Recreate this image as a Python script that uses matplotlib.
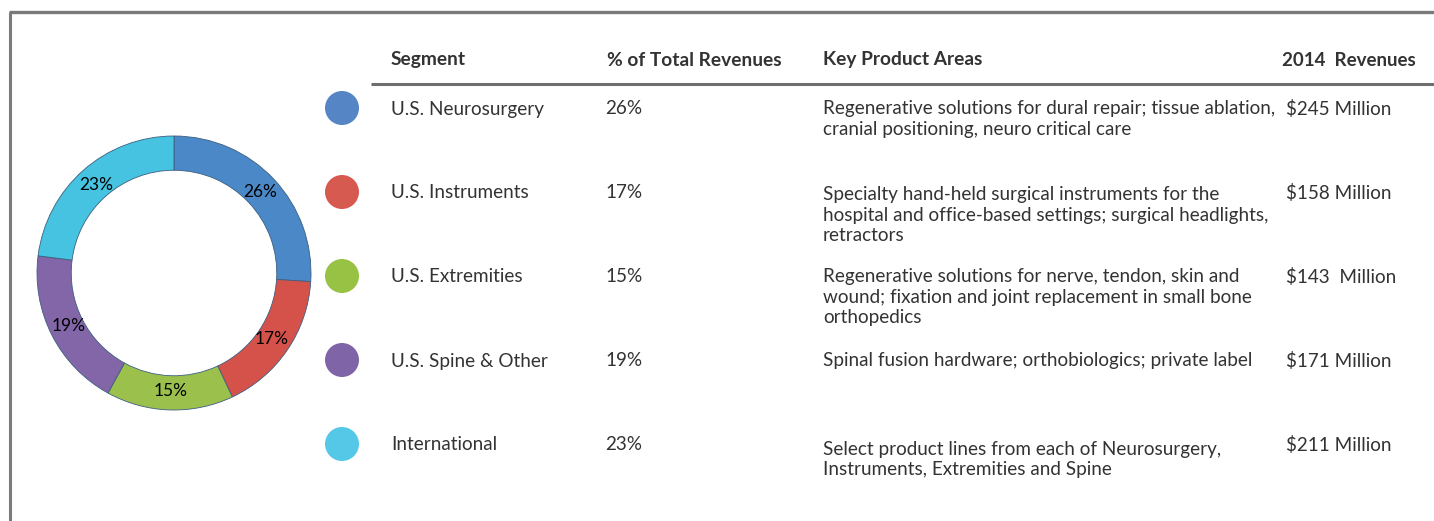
import matplotlib
matplotlib.use("Agg")
import matplotlib.pyplot as plt
from matplotlib.patches import Circle

# segment data
segments = ["U.S. Neurosurgery", "U.S. Instruments", "U.S. Extremities",
            "U.S. Spine & Other", "International"]
shares = [26, 17, 15, 19, 23]
share_labels = ["26%", "17%", "15%", "19%", "23%"]
products = [
    "Regenerative solutions for dural repair; tissue ablation,\ncranial positioning, neuro critical care",
    "Specialty hand-held surgical instruments for the\nhospital and office-based settings; surgical headlights,\nretractors",
    "Regenerative solutions for nerve, tendon, skin and\nwound; fixation and joint replacement in small bone\northopedics",
    "Spinal fusion hardware; orthobiologics; private label",
    "Select product lines from each of Neurosurgery,\nInstruments, Extremities and Spine",
]
revenues = ["$245 Million", "$158 Million", "$143  Million", "$171 Million", "$211 Million"]
headers = ["Segment", "% of Total Revenues", "Key Product Areas", "2014  Revenues"]

ring_colors = ["#4a88c8", "#d4524a", "#9cc04c", "#8266a8", "#45c3e0"]
dot_colors = ["#5585c5", "#d65a50", "#97c244", "#7f64a8", "#55c8e8"]

W, H = 1434, 521
plt.rcParams["font.family"] = ["Lato", "DejaVu Sans"]
fig = plt.figure(figsize=(W / 100, H / 100), dpi=100)

# full-figure axes in pixel units
ax = fig.add_axes([0, 0, 1, 1])
ax.set_xlim(0, W)
ax.set_ylim(H, 0)
ax.axis("off")

# frame lines (top and left)
ax.plot([9, W], [12, 12], color="#7a7a7a", lw=2.4, solid_capstyle="butt")
ax.plot([10, 10], [12, H], color="#7a7a7a", lw=2.2, solid_capstyle="butt")

# table header
txt = "#333333"
fs = 13.6
col_x = [391, 607, 823]
for x, h in zip(col_x, headers[:3]):
    ax.text(x, 60, h, fontsize=13.8, fontweight="bold", color=txt, va="center", ha="left")
ax.text(1416, 60, headers[3], fontsize=13.5, fontweight="bold", color=txt, va="center", ha="right")
ax.plot([371, W], [84, 84], color="#6e6e6e", lw=2.2, solid_capstyle="butt")

# table rows
row_y = [109, 193, 277, 361, 445]
prod_y = [111, 197, 279, 363, 452]
for i in range(len(segments)):
    ax.add_patch(Circle((342, row_y[i] - 1), 17, color=dot_colors[i], lw=0))
    ax.text(391, row_y[i], segments[i], fontsize=fs, color=txt, va="center", ha="left")
    ax.text(605, row_y[i], share_labels[i], fontsize=fs, color=txt, va="center", ha="left")
    ax.text(823, prod_y[i] - 11, products[i], fontsize=fs, color=txt, va="top", ha="left",
            linespacing=1.25)
    ax.text(1286, row_y[i], revenues[i], fontsize=fs, color=txt, va="center", ha="left")

# donut chart
cx, cy, r = 174, 273, 137
pax = fig.add_axes([(cx - r) / W, (H - cy - r) / H, 2 * r / W, 2 * r / H])
wedges, _, autotexts = pax.pie(
    shares, colors=ring_colors, startangle=90, counterclock=False,
    radius=1.0, autopct=lambda p: "%d%%" % round(p), pctdistance=0.86,
    wedgeprops=dict(width=0.25, edgecolor="#3d5f80", linewidth=0.6),
    textprops=dict(fontsize=12.5, color="black"))
pax.set_xlim(-1, 1)
pax.set_ylim(-1, 1)
pax.set_aspect("equal")
pax.axis("off")

fig.savefig("out.png", dpi=100)
